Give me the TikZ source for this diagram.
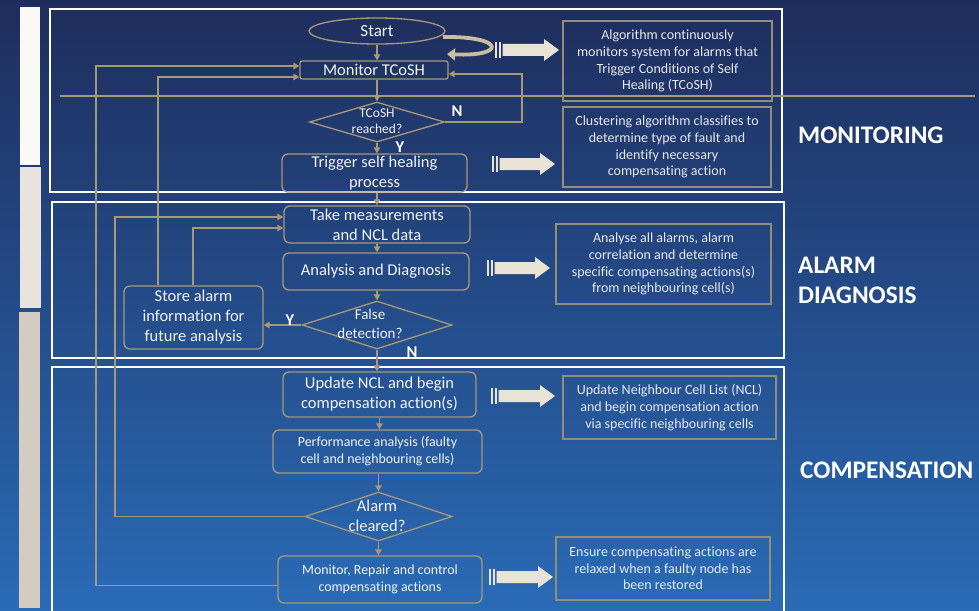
\documentclass[tikz,border=0pt]{standalone}
\usepackage{fontspec}
\setmainfont{Carlito}[Ligatures=NoCommon]
\usetikzlibrary{shapes.geometric,arrows.meta}
\definecolor{bgtop}{RGB}{30,45,92}
\definecolor{bgbot}{RGB}{42,107,182}
\definecolor{tanc}{RGB}{168,153,118}
\definecolor{ltan}{RGB}{200,189,160}
\definecolor{dboxc}{RGB}{150,141,118}
\definecolor{creamc}{RGB}{233,227,213}
\definecolor{txtc}{RGB}{242,242,242}
\definecolor{dtxtc}{RGB}{232,232,236}
\definecolor{barA}{RGB}{250,249,246}
\definecolor{barB}{RGB}{232,228,221}
\definecolor{barC}{RGB}{212,204,193}
\tikzset{
 flow/.style={draw=tanc, line width=1.3pt, rounded corners=6pt, text=txtc, align=center, inner sep=0pt, font=\fontsize{16.5}{20}\selectfont},
 smallflow/.style={flow, font=\fontsize{13.9}{17}\selectfont},
 dsc/.style={draw=dboxc, line width=1.3pt, text=dtxtc, align=center, inner sep=0pt, font=\fontsize{14}{16.7}\selectfont},
 dia/.style={diamond, draw=tanc, line width=1.3pt, inner sep=0pt},
 dtext/.style={text=txtc, align=center, inner sep=0pt},
 conn/.style={draw=tanc, line width=1.5pt, -{Triangle[length=6pt,width=6.5pt]}},
 plain/.style={draw=tanc, line width=1.5pt},
 sect/.style={draw=white, line width=1.6pt},
 lbl/.style={text=white, font=\bfseries\fontsize{25.3}{30}\selectfont, align=left, anchor=west, inner sep=0pt},
 yn/.style={text=white, font=\bfseries\fontsize{16.5}{19}\selectfont, inner sep=0pt},
}
\newcommand{\blockarrow}[3]{%
 \begin{scope}[shift={(#1,#2)}]
 \fill[creamc] (0,-8) rectangle (2.2,8);
 \fill[creamc] (4,-8) rectangle (6.2,8);
 \fill[creamc] (7.5,-6) -- ({#3-15},-6) -- ({#3-15},-11) -- (#3,0) -- ({#3-15},11) -- ({#3-15},6) -- (7.5,6) -- cycle;
 \end{scope}}
\begin{document}
\begin{tikzpicture}[x=1pt,y=-1pt]
\useasboundingbox (0,0) rectangle (979,610);
\shade[top color=bgtop, bottom color=bgbot] (0,0) rectangle (979,610);
% left bars
\fill[barA] (20,7) rectangle (40,165);
\fill[barB] (20,167) rectangle (41,308);
\fill[barC] (19,312) rectangle (40,608);
% sections
\draw[sect] (50,9) rectangle (782,192);
\draw[sect] (52,202) rectangle (784,358);
\draw[sect] (52,612) -- (52,367) -- (784,367) -- (784,612);
% horizontal line
\draw[plain, line width=2pt] (60,96) -- (975,96);

% flow nodes
\node[draw=tanc, line width=1.3pt, ellipse, minimum width=136, minimum height=26, inner sep=0pt, text=txtc, font=\fontsize{17}{20}\selectfont] (start) at (377,31) {Start};
\node[flow, rounded corners=2pt, minimum width=148, minimum height=18] (mon) at (374,70) {Monitor TCoSH};
\node[dia, minimum width=135, minimum height=40] (d1) at (377,122) {};
\node[dtext, font=\fontsize{13.5}{15.5}\selectfont] (d1t) at (377,121) {TCoSH\\reached?};
\node[flow, minimum width=185, minimum height=38] (trig) at (374.5,173) {Trigger self healing\\process};
\node[flow, minimum width=186, minimum height=37] (take) at (377,224.5) {Take measurements\\and NCL data};
\node[flow, minimum width=186, minimum height=37] (ana) at (376,271.5) {Analysis and Diagnosis};
\node[dia, minimum width=150, minimum height=48] (d2) at (377,325) {};
\node[dtext, font=\fontsize{15}{19}\selectfont] (d2t) at (370,324) {False\\detection?};
\node[flow, minimum width=139, minimum height=63] (store) at (193.5,317.5) {Store alarm\\information for\\future analysis};
\node[flow, minimum width=193, minimum height=45] (upd) at (379.5,394.5) {Update NCL and begin\\compensation action(s)};
\node[smallflow, minimum width=209, minimum height=43] (perf) at (377.5,451.5) {Performance analysis (faulty\\cell and neighbouring cells)};
\node[dia, minimum width=147, minimum height=49] (d3) at (378.5,516.5) {};
\node[dtext, font=\fontsize{16.5}{20}\selectfont] (d3t) at (377,516) {Alarm\\cleared?};
\node[smallflow, minimum width=204, minimum height=47] (mrc) at (380,579.5) {Monitor, Repair and control\\compensating actions};

% description boxes
\node[dsc, minimum width=209, minimum height=80] (ds1) at (667.5,61) {Algorithm continuously\\monitors system for alarms that\\Trigger Conditions of Self\\Healing (TCoSH)};
\node[dsc, minimum width=208, minimum height=80] (ds2) at (667,147) {Clustering algorithm classifies to\\determine type of fault and\\identify necessary\\compensating action};
\node[dsc, minimum width=215, minimum height=80] (ds3) at (663.5,264) {Analyse all alarms, alarm\\correlation and determine\\specific compensating actions(s)\\from neighbouring cell(s)};
\node[dsc, minimum width=213, minimum height=63] (ds4) at (669.5,407.5) {Update Neighbour Cell List (NCL)\\and begin compensation action\\via specific neighbouring cells};
\node[dsc, minimum width=214, minimum height=63] (ds5) at (663,568.5) {Ensure compensating actions are\\relaxed when a faulty node has\\been restored};

% block arrows
\blockarrow{495}{50}{64}
\blockarrow{492}{164}{63}
\blockarrow{487}{268}{63}
\blockarrow{491}{396}{64}
\blockarrow{489}{577}{64}

% curved self arrow at Start
\coordinate (cs) at (443,37);
\coordinate (ce) at (447,54);
\draw[ltan, line width=3.8pt, -{Triangle[length=8pt,width=12pt]}] (cs) .. controls (506,36) and (506,57) .. (ce);

% connectors main column
\draw[conn] (start.south) -- (start.south |- mon.north);
\draw[conn] (mon.south -| d1.north) -- (d1.north);
\draw[conn] (d1.south) -- (d1.south |- trig.north);
\draw[conn] (trig.south -| d1.south) -- (d1.south |- take.north);
\draw[conn] (take.south -| d1.south) -- (d1.south |- ana.north);
\draw[conn] (ana.south -| d2.north) -- (d2.north);
\draw[conn] (d2.south) -- (d2.south |- upd.north);
\draw[conn] (upd.south) -- (upd.south |- perf.north);
\draw[conn] (perf.south -| d3.north) -- (d3.north);
\draw[conn] (d3.south) -- (d3.south |- mrc.north);
\draw[conn] (d2.west) -- (d2.west -| store.east);

% loop N
\coordinate (nl) at (522,74);
\draw[conn] (d1.east) -| (nl) -- (nl -| mon.east);

% store feedbacks
\coordinate (s1) at (158,77);
\draw[conn] (store.north -| s1) -- (s1) -- (s1 -| mon.west);
\coordinate (s2) at (193,228);
\draw[conn] (store.north -| s2) -- (s2) -- (s2 -| take.west);
% alarm cleared no -> take measurements
\coordinate (s3) at (115,217);
\draw[conn] (d3.west) -| (s3) -- (s3 -| take.west);
% monitor repair -> monitor TCoSH
\coordinate (s4) at (96,66);
\coordinate (s5) at (96,585.5);
\draw[conn] (s5 -| mrc.west) -- (s5) -- (s4) -- (s4 -| mon.west);

% Y/N labels
\node[yn] (n1) at (457,111) {N};
\node[yn] (y1) at (400,147) {Y};
\node[yn] (y2) at (290,320) {Y};
\node[yn] (n2) at (412,352) {N};

% section labels
\node[lbl] (lmon) at (798,135) {MONITORING};
\node[lbl] (lal) at (798,280) {ALARM\\DIAGNOSIS};
\node[lbl] (lcomp) at (800,470) {COMPENSATION};
\end{tikzpicture}
\end{document}
